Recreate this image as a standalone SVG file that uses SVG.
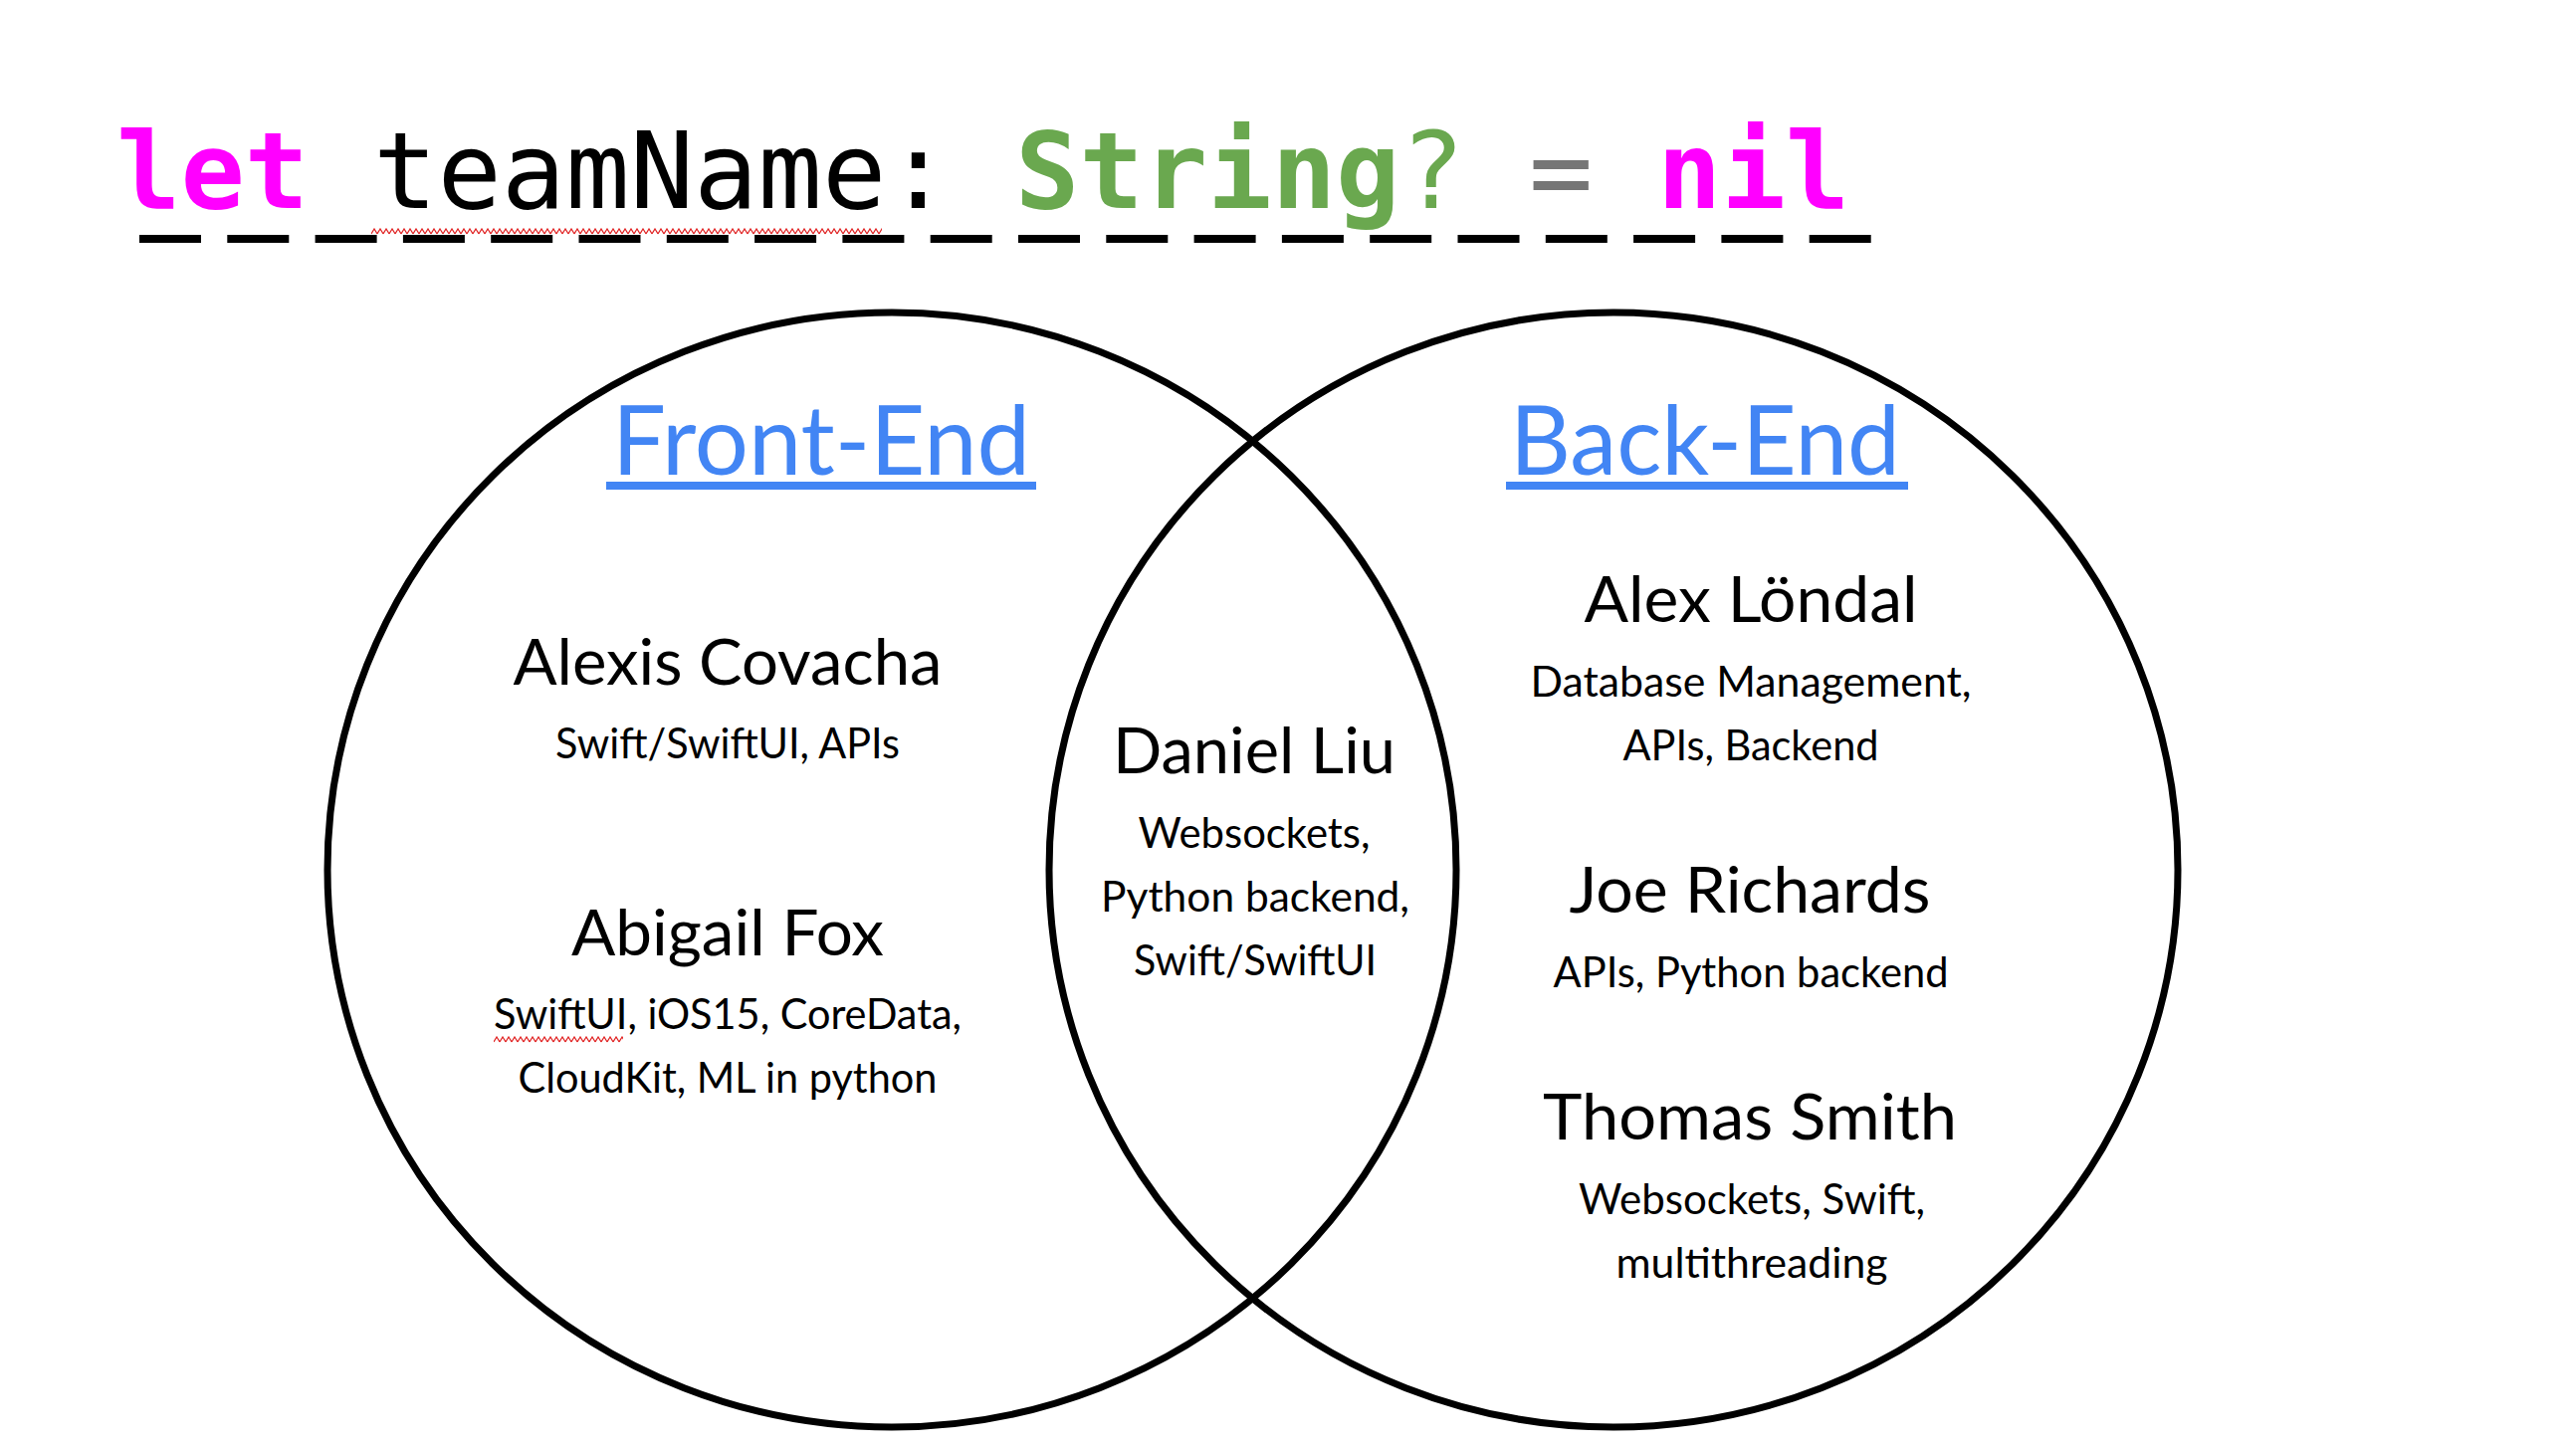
<svg xmlns="http://www.w3.org/2000/svg" width="2588" height="1454" viewBox="0 0 2588 1454">
<defs>
<style>
.code{font-family:"DejaVu Sans Mono","Liberation Mono",monospace;font-size:107px}
.b{font-weight:bold}
.ring{fill:none;stroke:#000;stroke-width:7}
.head{font-family:Lato,"Open Sans",sans-serif;font-size:96px;fill:#4285F4;text-anchor:middle}
.uline{fill:#4285F4}
.name{font-family:Lato,"Open Sans",sans-serif;font-size:64px;fill:#000;text-anchor:middle}
.det{font-family:Lato,"Open Sans",sans-serif;font-size:42px;fill:#000;text-anchor:middle}
</style>
<pattern id="squiggle" patternUnits="userSpaceOnUse" x="0" y="0" width="6" height="7">
<path d="M0,6 L3,1 L6,6" fill="none" stroke="#e02020" stroke-width="1.2"/>
</pattern>
</defs>
<rect width="2588" height="1454" fill="#fff"/>

<g id="title">
<text class="code" y="209"><tspan x="117" class="b" fill="#FF00FF">let</tspan><tspan x="375" fill="#000">teamName:</tspan><tspan x="1020" class="b" fill="#6AA84F">String</tspan><tspan x="1407" fill="#6AA84F">?</tspan><tspan x="1536" fill="#767676">=</tspan><tspan x="1665" class="b" fill="#FF00FF">nil</tspan></text>
<line x1="140" y1="240" x2="1880" y2="240" stroke="#000" stroke-width="8" stroke-dasharray="62 26.3"/>
<g transform="translate(373,229)"><rect width="513" height="7" fill="url(#squiggle)"/></g>
</g>

<g id="front-end">
<ellipse class="ring" cx="896" cy="874" rx="567" ry="560"/>
<text class="head" x="825" y="477" textLength="420" lengthAdjust="spacingAndGlyphs">Front-End</text>
<rect class="uline" x="609" y="484" width="432" height="8"/>
</g>

<g id="back-end">
<ellipse class="ring" cx="1621" cy="874" rx="567" ry="560"/>
<text class="head" x="1713" y="477" textLength="392" lengthAdjust="spacingAndGlyphs">Back-End</text>
<rect class="uline" x="1513" y="484" width="404" height="8"/>
</g>

<g id="connectors"></g>

<g id="alexis-covacha">
<text class="name" x="731" y="688" textLength="431" lengthAdjust="spacingAndGlyphs">Alexis Covacha</text>
<text class="det" x="731" y="762" textLength="346" lengthAdjust="spacingAndGlyphs">Swift/SwiftUI, APIs</text>
</g>

<g id="abigail-fox">
<text class="name" x="731" y="960" textLength="314" lengthAdjust="spacingAndGlyphs">Abigail Fox</text>
<text class="det" x="731" y="1034" textLength="470" lengthAdjust="spacingAndGlyphs">SwiftUI, iOS15, CoreData,</text>
<text class="det" x="731" y="1098" textLength="421" lengthAdjust="spacingAndGlyphs">CloudKit, ML in python</text>
<g transform="translate(496,1041)"><rect width="130" height="7" fill="url(#squiggle)"/></g>
</g>

<g id="daniel-liu">
<text class="name" x="1260" y="777" textLength="284" lengthAdjust="spacingAndGlyphs">Daniel Liu</text>
<text class="det" x="1260" y="852" textLength="233" lengthAdjust="spacingAndGlyphs">Websockets,</text>
<text class="det" x="1261" y="916" textLength="310" lengthAdjust="spacingAndGlyphs">Python backend,</text>
<text class="det" x="1261" y="980" textLength="244" lengthAdjust="spacingAndGlyphs">Swift/SwiftUI</text>
</g>

<g id="alex-londal">
<text class="name" x="1759" y="625" textLength="335" lengthAdjust="spacingAndGlyphs">Alex Löndal</text>
<text class="det" x="1759" y="700" textLength="443" lengthAdjust="spacingAndGlyphs">Database Management,</text>
<text class="det" x="1759" y="764" textLength="257" lengthAdjust="spacingAndGlyphs">APIs, Backend</text>
</g>

<g id="joe-richards">
<text class="name" x="1758" y="917" textLength="363" lengthAdjust="spacingAndGlyphs">Joe Richards</text>
<text class="det" x="1759" y="992" textLength="397" lengthAdjust="spacingAndGlyphs">APIs, Python backend</text>
</g>

<g id="thomas-smith">
<text class="name" x="1758" y="1145" textLength="416" lengthAdjust="spacingAndGlyphs">Thomas Smith</text>
<text class="det" x="1760" y="1220" textLength="348" lengthAdjust="spacingAndGlyphs">Websockets, Swift,</text>
<text class="det" x="1760" y="1284" textLength="273" lengthAdjust="spacingAndGlyphs">multithreading</text>
</g>
</svg>
